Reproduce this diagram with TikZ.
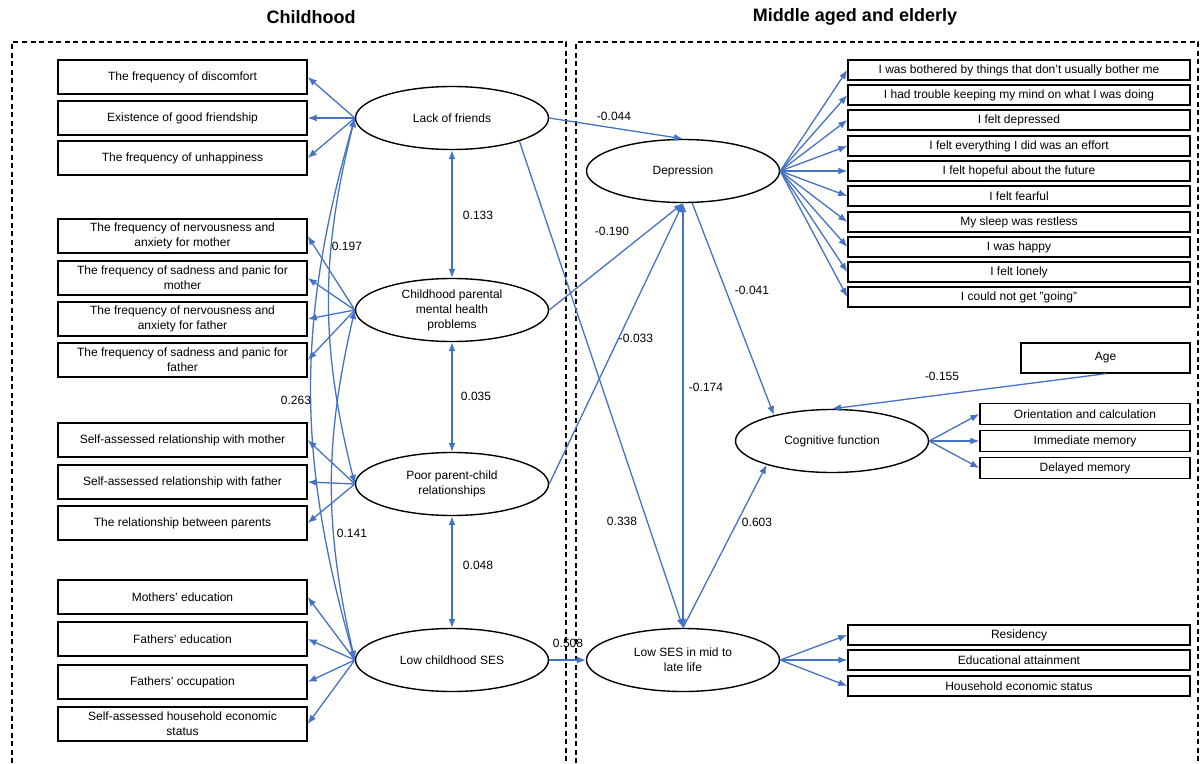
\documentclass[tikz,border=0pt]{standalone}
\usepackage{fontspec}
\setmainfont{Liberation Sans}
\usetikzlibrary{arrows.meta, shapes.geometric}
\definecolor{pathblue}{HTML}{4472C4}

\tikzset{
  every node/.style={font=\fontsize{12}{15}\selectfont},
  indbox/.style={draw, line width=1.4pt, minimum width=249pt, minimum height=34pt, inner sep=2pt, align=center},
  itembox/.style={draw, line width=1.4pt, minimum width=342pt, minimum height=20pt, inner sep=1pt, align=center},
  cogbox/.style={draw, line width=1.4pt, minimum width=210pt, minimum height=21pt, inner sep=1pt, align=center},
  latent/.style={draw, ellipse, line width=1.4pt, minimum width=193pt, minimum height=63pt, inner sep=0pt, align=center},
  coef/.style={inner sep=1pt},
  heading/.style={font=\fontsize{18}{20}\selectfont\bfseries},
  panel/.style={draw, line width=1.3pt, dash pattern=on 5pt off 3.5pt},
  arr/.style={-{Latex[length=9pt,width=7pt]}, draw=pathblue, line width=1.3pt},
  cov/.style={{Latex[length=9pt,width=7pt]}-{Latex[length=9pt,width=7pt]}, draw=pathblue, line width=1.3pt}
}

\begin{document}
\begin{tikzpicture}[x=1pt, y=-1pt]
\useasboundingbox (0,0) rectangle (1204,763);

% panels and headings
\draw[panel] (12,763) -- (12,42) -- (566,42) -- (566,763);
\draw[panel] (576,763) -- (576,42) -- (1198,42) -- (1198,763);
\node[heading] (tchild) at (311,17) {Childhood};
\node[heading] (tlater) at (855,17) {Middle aged and elderly};

% latent variables
\node[latent] (lack) at (452,118) {Lack of friends};
\node[latent] (pmh) at (452,310) {Childhood parental\\mental health\\problems};
\node[latent] (ppc) at (452,484) {Poor parent-child\\relationships};
\node[latent] (lses) at (452,660) {Low childhood SES};
\node[latent] (dep) at (683,171) {Depression};
\node[latent] (cog) at (832,441) {Cognitive function};
\node[latent] (mses) at (683,660) {Low SES in mid to\\late life};

% childhood indicators
\foreach \y/\t [count=\i] in {77/{The frequency of discomfort}, 118/{Existence of good friendship}, 158/{The frequency of unhappiness}}
  \node[indbox] (lf\i) at (182.5,\y) {\t};
\foreach \y/\t [count=\i] in {236/{The frequency of nervousness and\\anxiety for mother}, 278/{The frequency of sadness and panic for\\mother}, 319/{The frequency of nervousness and\\anxiety for father}, 360/{The frequency of sadness and panic for\\father}}
  \node[indbox] (pm\i) at (182.5,\y) {\t};
\foreach \y/\t [count=\i] in {440/{Self-assessed relationship with mother}, 482/{Self-assessed relationship with father}, 523/{The relationship between parents}}
  \node[indbox] (pc\i) at (182.5,\y) {\t};
\foreach \y/\t [count=\i] in {597/{Mothers' education}, 639/{Fathers' education}, 682/{Fathers' occupation}, 724/{Self-assessed household economic\\status}}
  \node[indbox] (cs\i) at (182.5,\y) {\t};

% later life indicators
\foreach \y/\t [count=\i] in {70/{I was bothered by things that don’t usually bother me}, 95/{I had trouble keeping my mind on what I was doing}, 120/{I felt depressed}, 146/{I felt everything I did was an effort}, 171/{I felt hopeful about the future}, 196/{I felt fearful}, 222/{My sleep was restless}, 247/{I was happy}, 272/{I felt lonely}, 297/{I could not get ”going”}}
  \node[itembox] (dp\i) at (1019,\y) {\t};
\node[cogbox, minimum width=169pt, minimum height=30pt] (age) at (1105.5,358) {Age};
\foreach \y/\t [count=\i] in {414/{Orientation and calculation}, 441/{Immediate memory}, 468/{Delayed memory}}
  \node[cogbox] (cg\i) at (1085,\y) {\t};
\foreach \y/\t [count=\i] in {635/{Residency}, 660/{Educational attainment}, 686/{Household economic status}}
  \node[itembox] (ms\i) at (1019,\y) {\t};

% measurement arrows
\foreach \b in {lf1,lf2,lf3} \draw[arr] (lack.west) -- (\b.east);
\foreach \b in {pm1,pm2,pm3,pm4} \draw[arr] (pmh.west) -- (\b.east);
\foreach \b in {pc1,pc2,pc3} \draw[arr] (ppc.west) -- (\b.east);
\foreach \b in {cs1,cs2,cs3,cs4} \draw[arr] (lses.west) -- (\b.east);
\foreach \i in {1,...,10} \draw[arr] (dep.east) -- (dp\i.west);
\foreach \i in {1,2,3} \draw[arr] (cog.east) -- (cg\i.west);
\foreach \i in {1,2,3} \draw[arr] (mses.east) -- (ms\i.west);

% covariances in childhood
\draw[cov] (lack.south) -- (pmh.north);
\draw[cov] (pmh.south) -- (ppc.north);
\draw[cov] (ppc.south) -- (lses.north);
\draw[cov] (lack.west) to[bend right=14] (ppc.west);
\draw[cov] (lack.west) to[bend right=16] (lses.west);
\draw[cov] (pmh.west) to[bend right=13] (lses.west);

% structural paths
\draw[arr] (lack.east) -- (dep.north);
\draw[arr] (pmh.east) -- (dep.south);
\draw[arr] (ppc.east) -- (dep.south);
\draw[arr] (lack.-19) -- (mses.north);
\draw[cov] (dep.south) -- (mses.north);
\draw[arr] (dep.-74) -- (cog.156);
\draw[arr] (mses.north) -- (cog.200);
\draw[arr] (age.south) -- (cog.north);
\draw[arr] (lses.east) -- (mses.west);

% coefficients
\node[coef] (k1) at (614,116) {-0.044};
\node[coef] (k2) at (478,215) {0.133};
\node[coef] (k3) at (347,246) {0.197};
\node[coef] (k4) at (612,231) {-0.190};
\node[coef] (k5) at (752,290) {-0.041};
\node[coef] (k6) at (636,338) {-0.033};
\node[coef] (k7) at (706,387) {-0.174};
\node[coef] (k8) at (296,400) {0.263};
\node[coef] (k9) at (476,396) {0.035};
\node[coef] (k10) at (942,376) {-0.155};
\node[coef] (k11) at (622,521) {0.338};
\node[coef] (k12) at (757,522) {0.603};
\node[coef] (k13) at (352,533) {0.141};
\node[coef] (k14) at (478,565) {0.048};
\node[coef] (k15) at (568,643) {0.508};
\end{tikzpicture}
\end{document}
